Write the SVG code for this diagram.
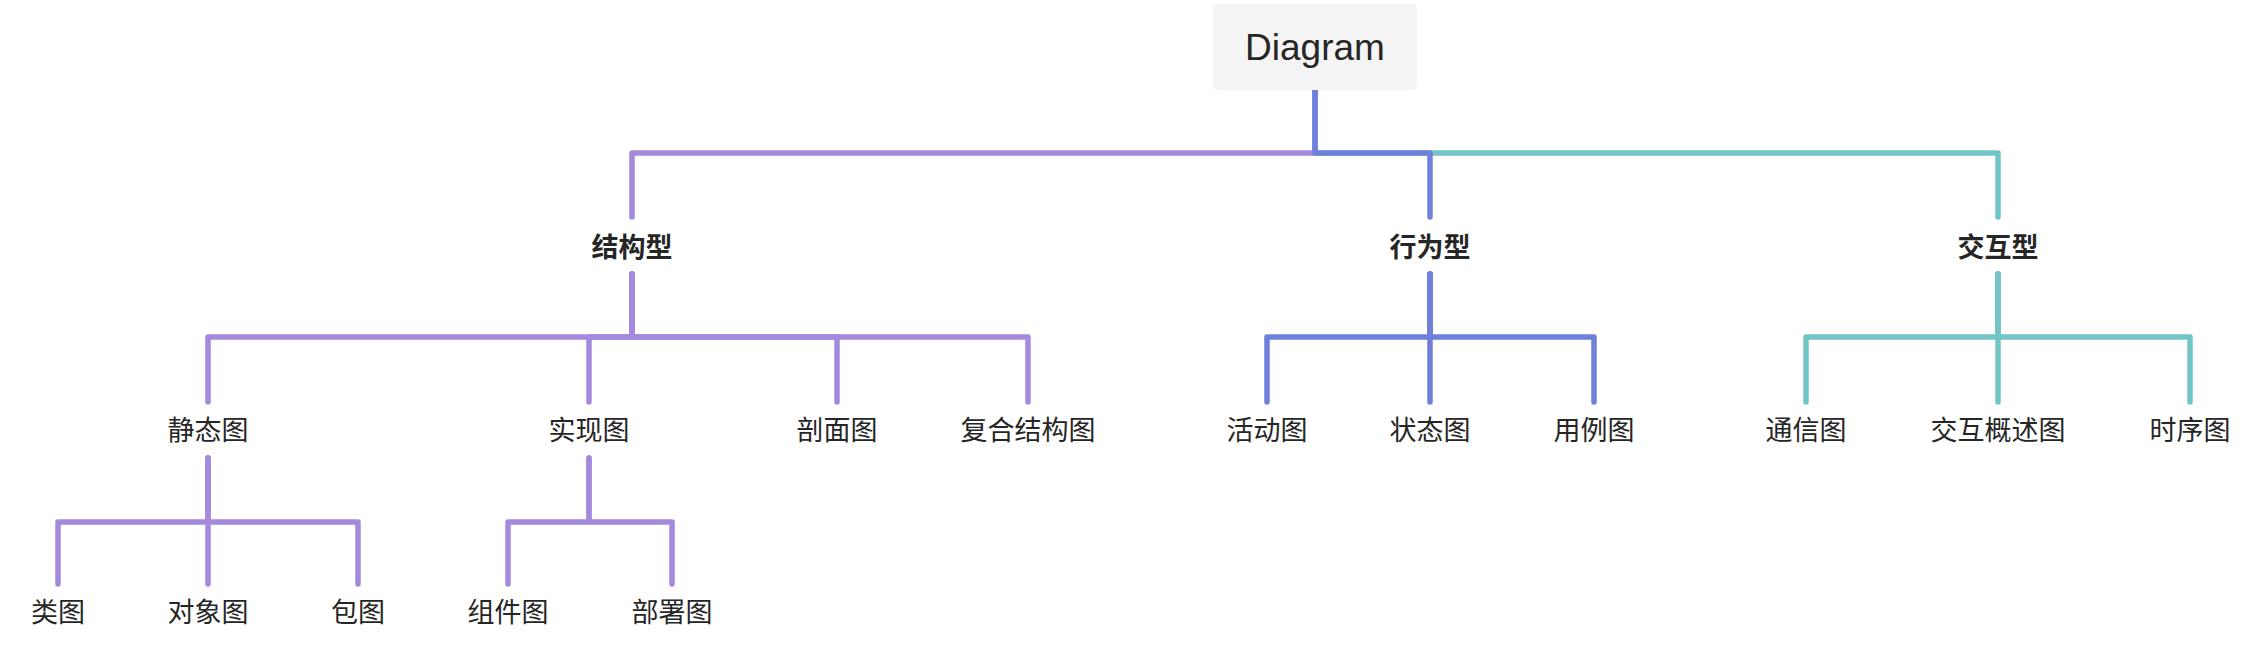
<svg xmlns="http://www.w3.org/2000/svg" width="2262" height="646" viewBox="0 0 2262 646">
<style>
.c{fill:none;stroke-width:5.5;stroke-linecap:round;stroke-linejoin:round}
.p{stroke:#a48adc}
.b{stroke:#6f80db}
.t{stroke:#72c4c5}
.l1{font-family:"Noto Sans CJK SC",sans-serif;font-size:27px;font-weight:bold;fill:#262626;text-anchor:middle}
.l2{font-family:"Noto Sans CJK SC",sans-serif;font-size:27px;fill:#262626;text-anchor:middle}
</style>
<rect width="2262" height="646" fill="#ffffff"/>
<g id="connectors">
<path class="c t" d="M1315,90 V153 H1998 V217"/>
<path class="c p" d="M1315,90 V153 H632 V217"/>
<path class="c b" d="M1315,90 V153 H1430 V217"/>
<path class="c p" d="M632,274 V337 H208 V402"/>
<path class="c p" d="M632,274 V337 H589 V402"/>
<path class="c p" d="M632,274 V337 H837 V402"/>
<path class="c p" d="M632,274 V337 H1028 V402"/>
<path class="c b" d="M1430,274 V337 H1267 V402"/>
<path class="c b" d="M1430,274 V337 H1430 V402"/>
<path class="c b" d="M1430,274 V337 H1594 V402"/>
<path class="c t" d="M1998,274 V337 H1806 V402"/>
<path class="c t" d="M1998,274 V337 H1998 V402"/>
<path class="c t" d="M1998,274 V337 H2190 V402"/>
<path class="c p" d="M208,458 V522 H58 V584"/>
<path class="c p" d="M208,458 V522 H208 V584"/>
<path class="c p" d="M208,458 V522 H358 V584"/>
<path class="c p" d="M589,458 V522 H508 V584"/>
<path class="c p" d="M589,458 V522 H672 V584"/>
</g>
<g id="root">
<rect x="1213" y="4" width="204" height="86" rx="5" fill="#f4f4f4"/>
<text x="1315" y="60" font-family="Liberation Sans, Arial, sans-serif" font-size="37" fill="#262626" text-anchor="middle">Diagram</text>
</g>
<g id="n-jiegou"><text class="l1" x="632" y="257">结构型</text></g>
<g id="n-xingwei"><text class="l1" x="1430" y="257">行为型</text></g>
<g id="n-jiaohu"><text class="l1" x="1998" y="257">交互型</text></g>
<g id="n-jingtai"><text class="l2" x="208" y="440">静态图</text></g>
<g id="n-shixian"><text class="l2" x="589" y="440">实现图</text></g>
<g id="n-poumian"><text class="l2" x="837" y="440">剖面图</text></g>
<g id="n-fuhe"><text class="l2" x="1028" y="440">复合结构图</text></g>
<g id="n-huodong"><text class="l2" x="1267" y="440">活动图</text></g>
<g id="n-zhuangtai"><text class="l2" x="1430" y="440">状态图</text></g>
<g id="n-yongli"><text class="l2" x="1594" y="440">用例图</text></g>
<g id="n-tongxin"><text class="l2" x="1806" y="440">通信图</text></g>
<g id="n-gaishu"><text class="l2" x="1998" y="440">交互概述图</text></g>
<g id="n-shixu"><text class="l2" x="2190" y="440">时序图</text></g>
<g id="n-lei"><text class="l2" x="58" y="622">类图</text></g>
<g id="n-duixiang"><text class="l2" x="208" y="622">对象图</text></g>
<g id="n-bao"><text class="l2" x="358" y="622">包图</text></g>
<g id="n-zujian"><text class="l2" x="508" y="622">组件图</text></g>
<g id="n-bushu"><text class="l2" x="672" y="622">部署图</text></g>
</svg>
